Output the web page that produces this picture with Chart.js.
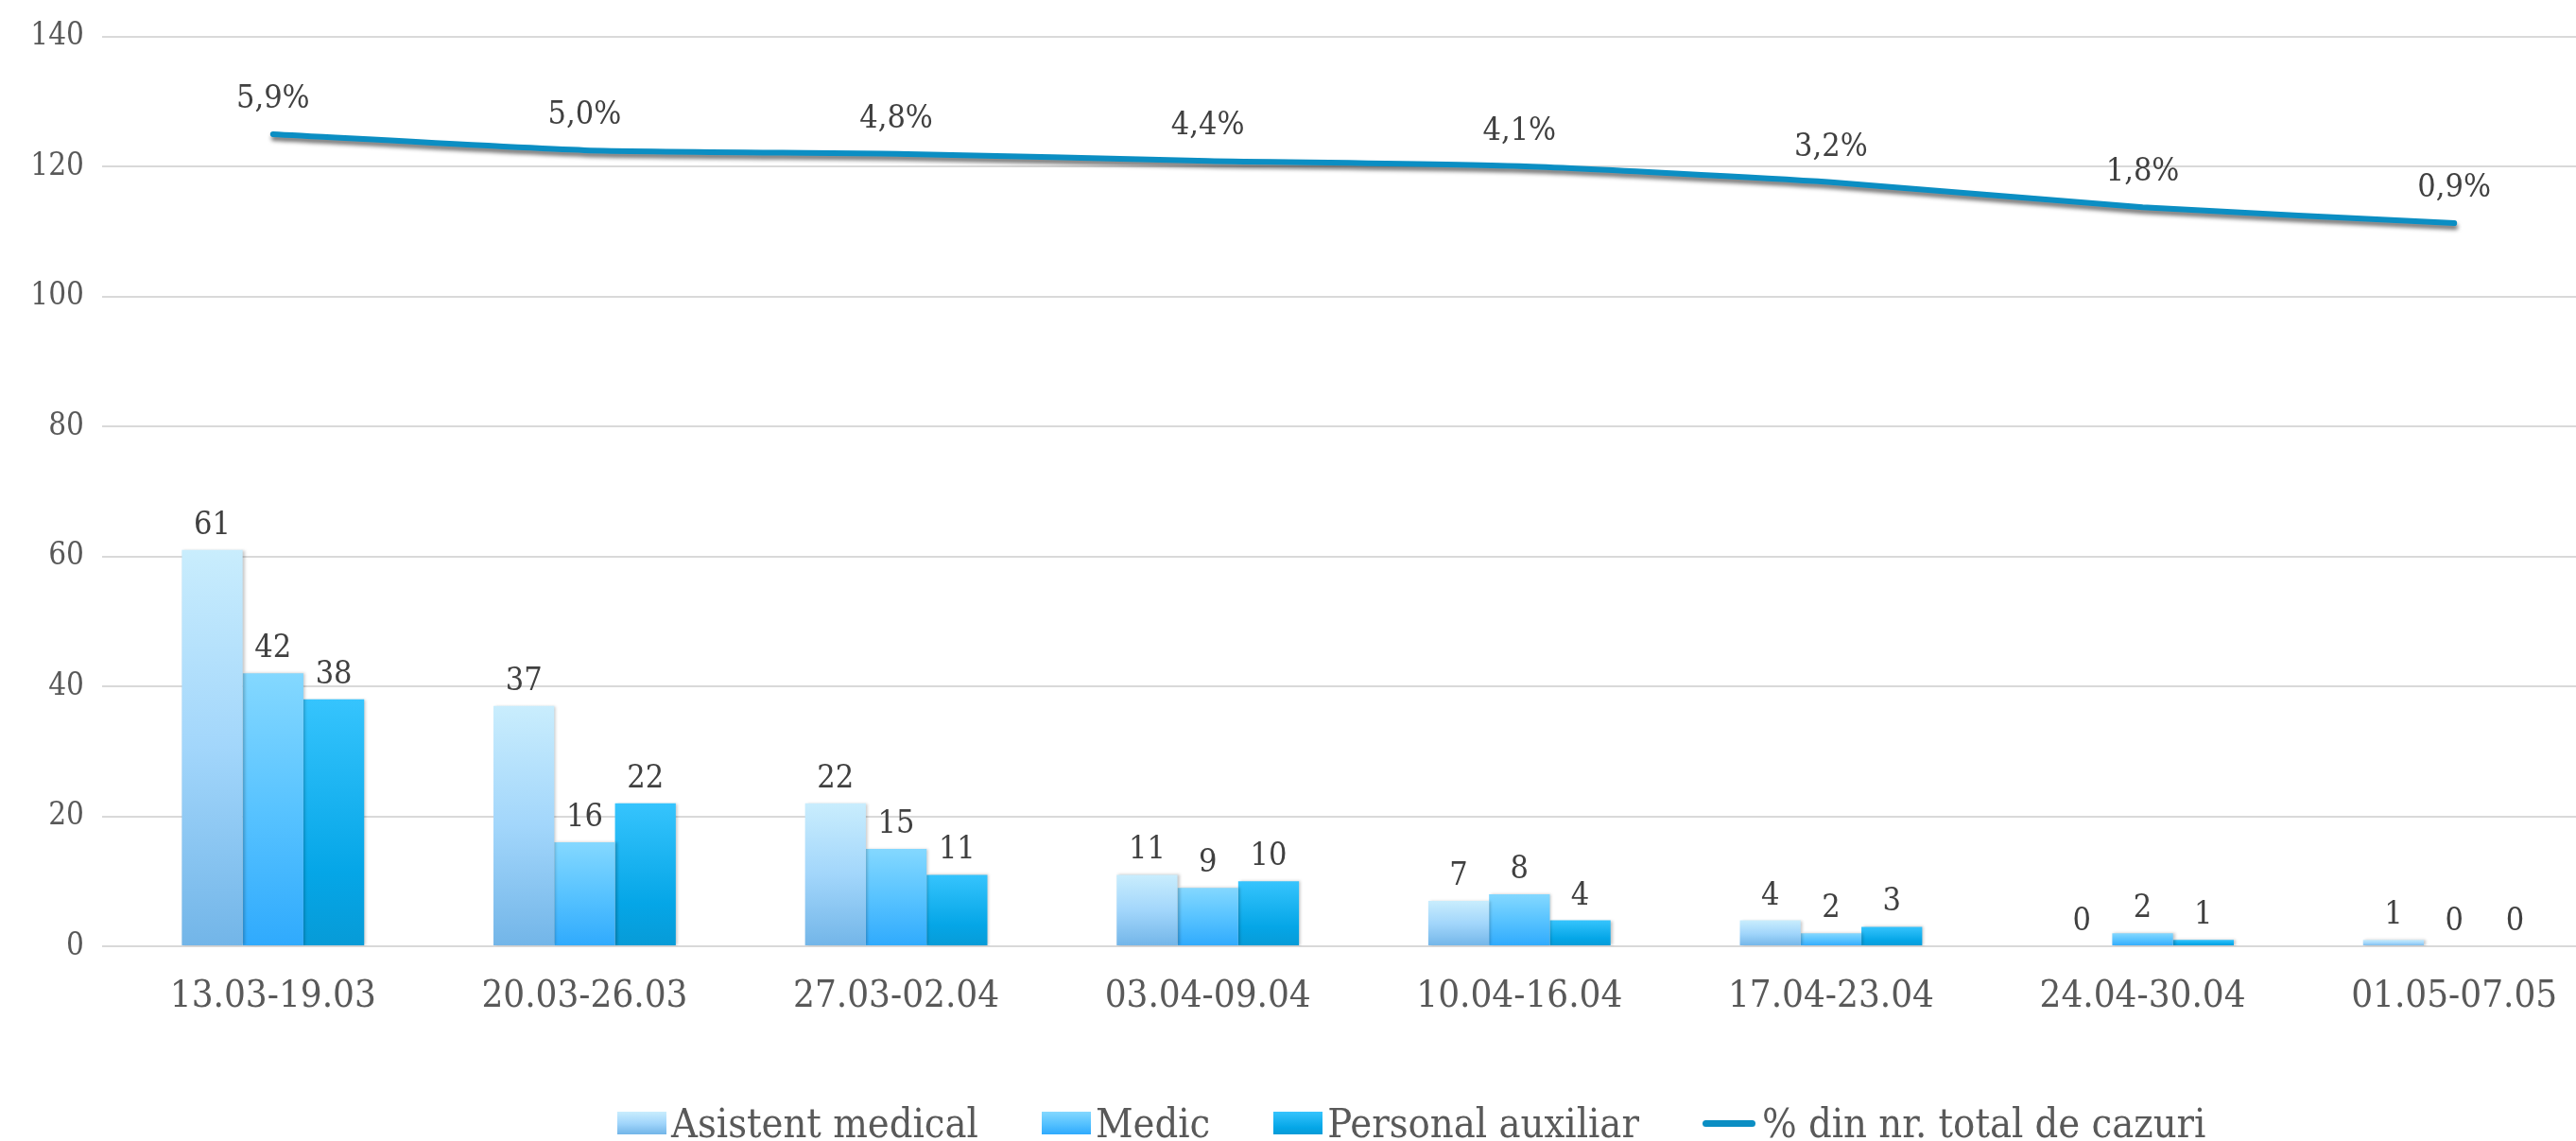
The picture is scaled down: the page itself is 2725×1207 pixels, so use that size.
<!DOCTYPE html>
<html>
<head>
<meta charset="utf-8">
<script src="https://cdn.jsdelivr.net/npm/chart.js@4/dist/chart.umd.min.js"></script>
<style>
  body { margin: 0; background: #fff; overflow: hidden; }
  #wrap { position: relative; width: 2765px; height: 1207px; }
  #legend {
    position: absolute; left: 653px; top: 1162px; height: 52px;
    display: flex; align-items: center;
    font-family: 'DejaVu Serif Condensed', 'DejaVu Serif', serif;
    font-size: 43px; color: #595959; white-space: nowrap;
  }
  .item { display: flex; align-items: center; margin-right: 67px; }
  .box { width: 52px; height: 24px; margin-right: 5px; }
  .ln { width: 56px; height: 7px; border-radius: 4px; background: #0b8ec3; margin-right: 7px; }
</style>
</head>
<body>
<div id="wrap">
  <canvas id="chart" width="2765" height="1207"></canvas>
  <div id="legend"></div>
</div>
<script>
// perioade (saptamani)
const categories = ['13.03-19.03', '20.03-26.03', '27.03-02.04', '03.04-09.04',
                    '10.04-16.04', '17.04-23.04', '24.04-30.04', '01.05-07.05'];
const asistentMedical = [61, 37, 22, 11, 7, 4, 0, 1];
const medic = [42, 16, 15, 9, 8, 2, 2, 0];
const personalAuxiliar = [38, 22, 11, 10, 4, 3, 1, 0];
// % din nr. total de cazuri
const procentCazuri = [5.9, 5.0, 4.8, 4.4, 4.1, 3.2, 1.8, 0.9];
const yTickMax = 140;
const yTickStep = 20;

const FONT = "'DejaVu Serif Condensed', 'DejaVu Serif', serif";

// gradient for each bar, from its top down to zero
function barGradient(stops) {
  return function (c) {
    const chart = c.chart;
    if (!chart.chartArea || c.type !== 'data') return stops[stops.length - 1][1];
    const y = chart.scales.y;
    const top = y.getPixelForValue(c.raw);
    const base = y.getPixelForValue(0);
    if (base - top < 1) return stops[0][1];
    const g = chart.ctx.createLinearGradient(0, top, 0, base);
    stops.forEach(s => g.addColorStop(s[0], s[1]));
    return g;
  };
}

const series = [
  { label: 'Asistent medical', data: asistentMedical,
    stops: [[0, '#c9edfd'], [0.5, '#a2d6fb'], [1, '#72b5e8']] },
  { label: 'Medic', data: medic,
    stops: [[0, '#84d8ff'], [0.5, '#58c3ff'], [1, '#2faafd']] },
  { label: 'Personal auxiliar', data: personalAuxiliar,
    stops: [[0, '#36c4fd'], [0.7, '#05a6e7'], [1, '#079bd7']] }
];

const datasets = series.map(s => ({
  type: 'bar',
  label: s.label,
  data: s.data,
  backgroundColor: barGradient(s.stops),
  categoryPercentage: 0.585,
  barPercentage: 1.0,
  order: 1
}));

datasets.push({
  type: 'line',
  label: '% din nr. total de cazuri',
  data: procentCazuri,
  yAxisID: 'y2',
  borderColor: '#0b8ec3',
  borderWidth: 6,
  borderCapStyle: 'round',
  borderJoinStyle: 'round',
  tension: 0.2,
  pointRadius: 0,
  fill: false,
  order: 0
});

const shadows = {
  id: 'shadows',
  beforeDatasetDraw(chart, args) {
    const ctx = chart.ctx;
    ctx.save();
    if (args.meta.type === 'line') {
      ctx.shadowColor = 'rgba(0,0,0,0.55)';
      ctx.shadowBlur = 4;
      ctx.shadowOffsetX = 1;
      ctx.shadowOffsetY = 4;
    } else {
      ctx.shadowColor = 'rgba(0,0,0,0.22)';
      ctx.shadowBlur = 3;
      ctx.shadowOffsetX = 2;
      ctx.shadowOffsetY = 0;
    }
  },
  afterDatasetDraw(chart) {
    chart.ctx.restore();
  }
};

const valueLabels = {
  id: 'valueLabels',
  afterDatasetsDraw(chart) {
    const ctx = chart.ctx;
    ctx.save();
    ctx.textAlign = 'center';
    ctx.textBaseline = 'alphabetic';
    ctx.fillStyle = '#404040';
    ctx.font = '34px ' + FONT;
    chart.data.datasets.forEach((ds, i) => {
      const meta = chart.getDatasetMeta(i);
      meta.data.forEach((el, j) => {
        if (ds.type === 'line') {
          const txt = ds.data[j].toFixed(1).replace('.', ',') + '%';
          ctx.fillText(txt, el.x, el.y - 28);
        } else {
          ctx.fillText(String(ds.data[j]), el.x, el.y - 17);
        }
      });
    });
    ctx.restore();
  }
};

new Chart(document.getElementById('chart'), {
  data: { labels: categories, datasets: datasets },
  options: {
    responsive: false,
    animation: false,
    devicePixelRatio: 1,
    layout: { padding: { top: 15, right: 4, left: 0, bottom: 128 } },
    plugins: {
      legend: { display: false },
      tooltip: { enabled: false }
    },
    scales: {
      x: {
        grid: { display: false, drawTicks: false },
        border: { display: false },
        ticks: { color: '#595959', font: { family: FONT, size: 40 }, padding: 30, maxRotation: 0 },
        afterFit(scale) { scale.height = 78; }
      },
      y: {
        min: 0,
        max: yTickMax,
        ticks: { stepSize: yTickStep, color: '#595959', font: { family: FONT, size: 33 }, padding: 19 },
        grid: { color: '#d9d9d9', lineWidth: 2, drawTicks: true, tickLength: 16, tickColor: '#d9d9d9' },
        border: { display: false },
        afterFit(scale) { scale.width = 124; }
      },
      y2: {
        display: false,
        min: -39.73,
        max: 11.38
      }
    }
  },
  plugins: [shadows, valueLabels]
});

// legend
const legend = document.getElementById('legend');
series.forEach(s => {
  const item = document.createElement('div');
  item.className = 'item';
  const box = document.createElement('div');
  box.className = 'box';
  box.style.background = 'linear-gradient(to bottom, ' + s.stops.map(st => st[1] + ' ' + (st[0] * 100) + '%').join(', ') + ')';
  const txt = document.createElement('span');
  txt.textContent = s.label;
  item.appendChild(box);
  item.appendChild(txt);
  legend.appendChild(item);
});
const lineItem = document.createElement('div');
lineItem.className = 'item';
lineItem.innerHTML = '<div class="ln"></div><span>% din nr. total de cazuri</span>';
legend.appendChild(lineItem);
</script>
</body>
</html>
